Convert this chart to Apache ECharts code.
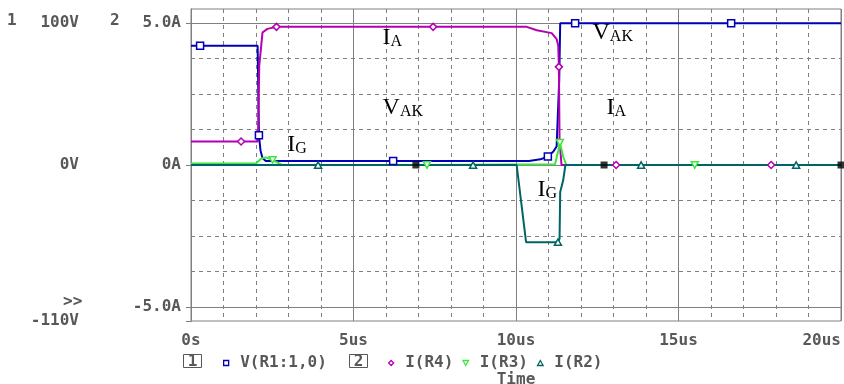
<!DOCTYPE html>
<html>
<head>
<meta charset="utf-8">
<script src="https://cdn.jsdelivr.net/npm/echarts@6/dist/echarts.min.js"></script>
<style>
html,body{margin:0;padding:0;background:#fff;}
#chart{width:844px;height:384px;}
</style>
</head>
<body>
<div id="chart"></div>
<script>
// V(R1:1,0) - volts, axis 1
var vT = [0, 0.28, 2.05, 2.09, 2.14, 2.2, 2.3, 6.22, 10.4, 10.75, 10.98, 11.15, 11.25, 11.33, 11.36, 11.82, 16.62, 20];
var vV = [84, 84, 84, 21, 10, 5, 2.8, 2.8, 2.8, 4, 6, 9.5, 13, 60, 100, 100, 100, 100];
var vMark = [1, 3, 7, 10, 15, 16];
// I(R4) - amps, axis 2
var r4T = [0, 1.54, 2.06, 2.1, 2.2, 2.35, 2.63, 7.45, 10.33, 10.64, 11.1, 11.25, 11.3, 11.32, 11.34, 11.4, 13.08, 17.85, 20];
var r4I = [0.83, 0.83, 0.83, 3.5, 4.67, 4.8, 4.87, 4.87, 4.87, 4.75, 4.65, 4.44, 4.2, 3.46, 0.9, 0, 0, 0, 0];
var r4Mark = [1, 6, 7, 13, 16, 17];
// I(R3)
var r3T = [0, 2.0, 2.15, 2.3, 2.51, 2.8, 7.26, 11.2, 11.3, 11.35, 11.45, 11.55, 15.5, 20];
var r3I = [0.05, 0.05, 0.22, 0.27, 0.18, 0, 0, 0.03, 0.5, 0.79, 0.3, 0, 0, 0];
var r3Mark = [4, 6, 9, 12];
// I(R2)
var r2T = [0, 3.91, 8.68, 10.02, 10.31, 11.29, 11.34, 11.36, 11.45, 11.52, 13.85, 18.62, 20];
var r2I = [0, 0, 0, 0, -2.72, -2.72, -2.6, -0.95, -0.55, 0, 0, 0, 0];
var r2Mark = [1, 2, 5, 10, 11];
// black end marks
var kT = [6.92, 12.71, 20];
var kI = [0, 0, 0];

var xMinor = 1, xMajor = 5;
var aTicks = [-5, 0, 5];
var aMinor = [-3.75, -2.5, -1.25, 1.25, 2.5, 3.75];
var vTicks = [-110, 0, 100];

// text notes on the plot [main, subscript, time, amps]
var notes = [
    ['I', 'A', 5.91, 4.88],
    ['V', 'AK', 12.37, 5.06],
    ['V', 'AK', 5.91, 2.41],
    ['I', 'A', 12.8, 2.41],
    ['I', 'G', 2.98, 1.11],
    ['I', 'G', 10.68, -0.48]
];

var cV = '#0000b4', cR4 = '#b400b4', cR3 = '#3ce63c', cR2 = '#006464';
var gray = '#808080', txt = '#585858';
var mono = 'DejaVu Sans Mono';
var lbl = {color: txt, fontFamily: mono, fontSize: 16, fontWeight: 'bold'};

var sqr = 'path://M0,0H10V10H0Z';
var dia = 'path://M5,0L10,5L5,10L0,5Z';
var tdn = 'path://M0,0L10,0L5,9Z';
var tup = 'path://M5,0L10,9L0,9Z';

function pairs(t, y) {
    return t.map(function (x, i) { return [x, y[i]]; });
}
function picks(t, y, idx) {
    return idx.map(function (i) { return [t[i], y[i]]; });
}
function lineS(name, t, y, c, yi) {
    return {name: name, type: 'line', yAxisIndex: yi, data: pairs(t, y), symbol: 'none',
        lineStyle: {color: c, width: 2}, itemStyle: {color: c}, z: 2};
}
function markS(name, t, y, idx, c, yi, sym) {
    return {name: name, type: 'scatter', yAxisIndex: yi, data: picks(t, y, idx), symbol: sym,
        symbolSize: 7, symbolKeepAspect: true,
        itemStyle: {color: '#fff', borderColor: c, borderWidth: 1.5, opacity: 1}, z: 3};
}
function legItem(name, icon, c) {
    return {name: name, icon: icon, itemStyle: {color: '#fff', borderColor: c, borderWidth: 1.3}};
}

var r4Line = lineS('I(R4)', r4T, r4I, cR4, 0);
r4Line.markPoint = {
    symbol: 'rect', symbolSize: 1, silent: true,
    itemStyle: {color: 'rgba(0,0,0,0)'},
    label: {
        show: true, position: [0, 0],
        rich: {
            m: {fontFamily: 'Liberation Serif', fontSize: 24, lineHeight: 24, color: '#000', verticalAlign: 'middle'},
            s: {fontFamily: 'Liberation Serif', fontSize: 16, lineHeight: 13, color: '#000', verticalAlign: 'bottom'}
        }
    },
    data: notes.map(function (n) {
        return {coord: [n[2], n[3]], label: {formatter: '{m|' + n[0] + '}{s|' + n[1] + '}'}};
    })
};

var myChart = echarts.init(document.getElementById('chart'));
var option = {
    animation: false,
    grid: {left: 191, right: 3, top: 9, bottom: 63, show: true, borderColor: gray, borderWidth: 1,
        containLabel: false, outerBoundsMode: 'none'},
    xAxis: [{
        type: 'value', min: 0, max: 20, interval: xMinor,
        axisLine: {show: true, lineStyle: {color: gray}},
        axisTick: {show: true, inside: true, length: 4, lineStyle: {color: gray}},
        axisLabel: {show: false},
        splitLine: {show: true, lineStyle: {color: gray, type: [4, 4]}}
    }, {
        type: 'value', position: 'bottom', min: 0, max: 20, interval: xMajor,
        axisLine: {show: false},
        axisTick: {show: true, length: 6, lineStyle: {color: gray}},
        axisLabel: Object.assign({margin: 12, alignMaxLabel: 'right',
            formatter: function (v) { return v === 0 ? '0s' : v + 'us'; }}, lbl),
        splitLine: {show: true, lineStyle: {color: gray}},
        name: 'Time', nameLocation: 'middle', nameGap: 51, nameTextStyle: lbl
    }],
    yAxis: [{
        type: 'value', position: 'left', min: -5.5, max: 5.5,
        axisLine: {show: true, lineStyle: {color: gray}},
        axisTick: {show: true, length: 5, customValues: aTicks, lineStyle: {color: gray}},
        axisLabel: Object.assign({margin: 10, customValues: aTicks,
            formatter: function (v) { return v === 0 ? '0A' : v.toFixed(1) + 'A'; }}, lbl),
        splitLine: {show: true, lineStyle: {color: gray}}
    }, {
        type: 'value', position: 'left', offset: 103, min: -110, max: 110,
        axisLine: {show: true, lineStyle: {color: gray}},
        axisTick: {show: true, length: 5, customValues: vTicks, lineStyle: {color: gray}},
        axisLabel: Object.assign({margin: 9, customValues: vTicks,
            formatter: function (v) { return v + 'V'; }}, lbl),
        splitLine: {show: false}
    }, {
        type: 'value', position: 'left', min: -5.5, max: 5.5,
        axisLine: {show: false},
        axisTick: {show: true, inside: true, length: 4, customValues: aMinor, lineStyle: {color: gray}},
        axisLabel: {show: false},
        splitLine: {show: true, lineStyle: {color: gray, type: [4, 4]}}
    }],
    legend: [{
        left: 218, top: 350, itemWidth: 18, itemHeight: 5, itemGap: 9, selectedMode: false,
        textStyle: lbl, data: [legItem('V(R1:1,0)', sqr, cV)]
    }, {
        left: 383, top: 350, itemWidth: 18, itemHeight: 5, itemGap: 9, selectedMode: false,
        textStyle: lbl,
        data: [legItem('I(R4)', dia, cR4), legItem('I(R3)', tdn, cR3), legItem('I(R2)', tup, cR2)]
    }],
    graphic: [
        {type: 'text', left: 7, top: 13, style: {text: '1', font: 'bold 16px ' + mono, fill: txt}},
        {type: 'text', left: 110, top: 13, style: {text: '2', font: 'bold 16px ' + mono, fill: txt}},
        {type: 'text', left: 63, top: 294, style: {text: '>>', font: 'bold 16px ' + mono, fill: txt}},
        {type: 'rect', shape: {x: 183.5, y: 354.5, width: 18, height: 13}, style: {fill: 'none', stroke: txt, lineWidth: 1}},
        {type: 'text', x: 192.5, y: 362, style: {text: '1', font: 'bold 16px ' + mono, fill: txt, align: 'center', verticalAlign: 'middle'}},
        {type: 'rect', shape: {x: 349.5, y: 354.5, width: 18, height: 13}, style: {fill: 'none', stroke: txt, lineWidth: 1}},
        {type: 'text', x: 358.5, y: 362, style: {text: '2', font: 'bold 16px ' + mono, fill: txt, align: 'center', verticalAlign: 'middle'}}
    ],
    series: [
        lineS('V(R1:1,0)', vT, vV, cV, 1),
        r4Line,
        lineS('I(R3)', r3T, r3I, cR3, 0),
        lineS('I(R2)', r2T, r2I, cR2, 0),
        markS('V(R1:1,0)', vT, vV, vMark, cV, 1, sqr),
        markS('I(R4)', r4T, r4I, r4Mark, cR4, 0, dia),
        markS('I(R3)', r3T, r3I, r3Mark, cR3, 0, tdn),
        markS('I(R2)', r2T, r2I, r2Mark, cR2, 0, tup),
        {name: 'end', type: 'scatter', yAxisIndex: 0, data: pairs(kT, kI), symbol: 'rect',
            symbolSize: 7, itemStyle: {color: '#000'}, z: 4}
    ]
};
myChart.setOption(option);
</script>
</body>
</html>
